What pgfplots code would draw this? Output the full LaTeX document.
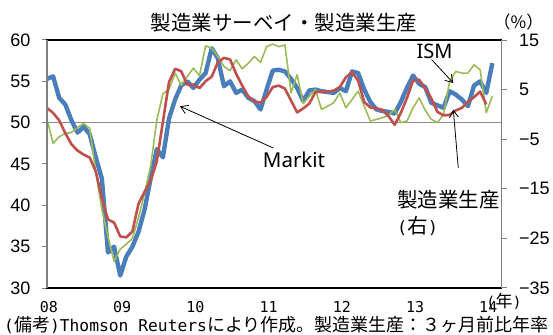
\documentclass[border=0pt]{standalone}
\usepackage{fontspec}
\setmainfont{Liberation Sans}
\newfontfamily\jp{Noto Sans CJK JP}
\newfontfamily\mono{DejaVu Sans Mono}
\newfontfamily\nsans{Noto Sans}
\usepackage{pgfplots}
\pgfplotsset{compat=1.18}
\usepackage{pgfplotstable}
\usetikzlibrary{arrows.meta}

\definecolor{mblue}{HTML}{4A7EBB}
\definecolor{mred}{HTML}{C0504D}
\definecolor{mgreen}{HTML}{9BBB59}

\pgfplotstableread{
i markit ism
0 55.3 50.4
1 55.6 47.5
2 53.0 48.3
3 52.2 48.7
4 50.3 48.8
5 48.8 49.4
6 49.5 49.9
7 48.6 49.3
8 45.8 44.0
9 43.2 39.5
10 34.3 36.2
11 35.0 33.2
12 31.5 34.7
13 33.8 35.3
14 35.0 36.0
15 36.8 38.5
16 39.5 41.5
17 43.3 44.8
18 46.8 50.3
19 45.8 53.5
20 50.5 54.0
21 52.8 56.0
22 54.5 54.5
23 55.0 55.6
24 54.2 56.6
25 55.2 55.7
26 56.0 59.3
27 59.0 59.0
28 57.8 58.0
29 54.4 56.8
30 55.0 56.3
31 53.6 57.6
32 54.0 56.5
33 53.0 57.2
34 52.6 58.0
35 51.6 57.3
36 54.0 59.2
37 56.3 59.5
38 56.4 59.2
39 56.2 59.4
40 55.3 53.6
41 54.2 55.8
42 52.6 52.3
43 53.9 53.2
44 54.0 54.0
45 53.8 51.6
46 53.7 52.0
47 53.6 52.4
48 54.2 53.6
49 53.8 51.8
50 56.2 52.8
51 56.0 53.8
52 54.0 52.0
53 52.5 50.2
54 51.6 50.4
55 51.4 50.6
56 51.3 50.9
57 51.1 51.6
58 52.5 50.0
59 54.2 50.2
60 55.7 51.8
61 54.7 53.0
62 54.3 51.5
63 52.4 50.4
64 52.1 50.0
65 51.8 51.0
66 53.8 55.0
67 53.4 56.2
68 52.8 56.0
69 52.0 56.0
70 54.5 57.0
71 55.0 56.4
72 53.6 51.2
73 57.2 53.2
}\leftdata

\pgfplotstableread{
i prod
0 1.3
1 0.3
2 -1.2
3 -3.8
4 -6.0
5 -7.3
6 -8.1
7 -8.7
8 -11.5
9 -17.0
10 -21.2
11 -21.8
12 -24.6
13 -24.8
14 -23.6
15 -18.0
16 -15.6
17 -13.3
18 -9.5
19 -1.5
20 6.5
21 9.2
22 8.7
23 6.0
24 6.0
25 5.3
26 6.7
27 7.6
28 10.5
29 11.4
30 11.1
31 8.2
32 5.8
33 3.6
34 2.6
35 2.4
36 3.5
37 5.5
38 5.8
39 5.2
40 2.8
41 0.4
42 1.2
43 2.2
44 4.5
45 4.6
46 4.6
47 4.8
48 5.5
49 7.5
50 8.5
51 6.8
52 2.5
53 1.4
54 1.2
55 0.9
56 -0.4
57 -2.1
58 0.3
59 3.3
60 6.8
61 7.0
62 5.2
63 3.2
64 0.5
65 -0.2
66 -0.1
67 0.8
68 1.3
69 2.5
70 3.5
71 4.6
72 2.0
}\rightdata

\begin{document}
\begin{tikzpicture}[x=1pt,y=1pt]
\path[use as bounding box] (0,0) rectangle (553,334);
\begin{axis}[
  at={(47pt,46pt)}, anchor=south west,
  width=454.5pt, height=248pt, scale only axis,
  xmin=0, xmax=74.5, ymin=30, ymax=60,
  axis line style={draw=none},
  xtick={0,12,24,36,48,60,72},
  xticklabels={08,09,10,11,12,13,14},
  xtick pos=bottom,
  xticklabel style={font=\mono\fontsize{15}{15}\selectfont, yshift=-8pt, xshift=2pt, inner sep=0.5pt},
  ytick={30,35,40,45,50,55,60},
  yticklabels={30,35,40,45,50,55,60},
  ytick pos=left,
  yticklabel style={font=\fontsize{18}{18}\selectfont, xshift=-8pt},
  tick align=outside,
  x tick style={draw=none},
  y tick style={draw=gray, line width=1pt},
  major tick length=5pt,
  clip=false,
]
\addplot[gray!90, line width=1.3pt] coordinates {(0,50) (74.5,50)};
\addplot[mblue, line width=4.4pt, line join=round] table[x=i,y=markit]{\leftdata};
\addplot[mgreen, line width=1.6pt, line join=round] table[x=i,y=ism]{\leftdata};
\end{axis}
\begin{axis}[
  at={(47pt,46pt)}, anchor=south west,
  width=454.5pt, height=248pt, scale only axis,
  xmin=0, xmax=74.5, ymin=-35, ymax=15,
  axis line style={draw=none},
  xtick=\empty,
  ytick={-35,-25,-15,-5,5,15},
  yticklabels={−35,−25,−15,−5,5,15},
  ytick pos=right,
  yticklabel style={font=\fontsize{18}{18}\selectfont, xshift=9pt},
  tick align=outside,
  y tick style={draw=gray, line width=1pt},
  major tick length=5pt,
]
\addplot[mred, line width=2.6pt, line join=round] table[x=i,y=prod]{\rightdata};
\end{axis}
% frame
\draw[black, line width=1.8pt] (46.2,294) -- (502.3,294);
\draw[black, line width=1.8pt] (46.2,46) -- (502.3,46);
\draw[gray, line width=1.4pt] (47,46) -- (47,294);
\draw[gray, line width=1.4pt] (501.5,46) -- (501.5,294);
% title and units
\node[font=\jp\fontsize{20.5}{20.5}\selectfont, inner sep=0pt] at (284,311) {製造業サーベイ・製造業生産};
\node[font=\jp\fontsize{17}{17}\selectfont, inner sep=0pt] at (518.5,311.5) {（\%）};
\node[inner sep=0pt] at (504,33) {\mono\fontsize{15}{15}\selectfont(\jp\fontsize{17}{17}\selectfont 年\mono\fontsize{15}{15}\selectfont)};
\node[anchor=west, inner sep=0pt] at (4,9.5) {\mono\fontsize{16.3}{16.3}\selectfont(\jp\fontsize{18}{18}\selectfont 備考\mono\fontsize{16.3}{16.3}\selectfont)Thomson Reuters\jp\fontsize{18}{18}\selectfont により作成。製造業生産：３ヶ月前比年率};
% annotations
\node[font=\nsans\fontsize{20}{20}\selectfont, inner sep=0pt] at (434.5,282.3) {ISM};
\draw[line width=0.8pt, -{Straight Barb[length=7pt,width=9pt]}] (431.7,274.3) -- (453.3,251);
\node[font=\nsans\fontsize{20.5}{20.5}\selectfont, inner sep=0pt] at (294,174) {Markit};
\draw[line width=0.8pt, -{Straight Barb[length=7pt,width=9pt]}] (273.3,186) -- (180,227.7);
\node[font=\jp\fontsize{20.5}{20.5}\selectfont, anchor=west, inner sep=0pt] at (397,134.7) {製造業生産};
\node[anchor=west, inner sep=0pt] at (397,108.3) {\mono\fontsize{17}{17}\selectfont(\jp\fontsize{20.5}{20.5}\selectfont 右\mono\fontsize{17}{17}\selectfont)};
\draw[line width=0.8pt, -{Straight Barb[length=7pt,width=9pt]}] (458.3,166) -- (453.3,224.3);
\end{tikzpicture}
\end{document}
